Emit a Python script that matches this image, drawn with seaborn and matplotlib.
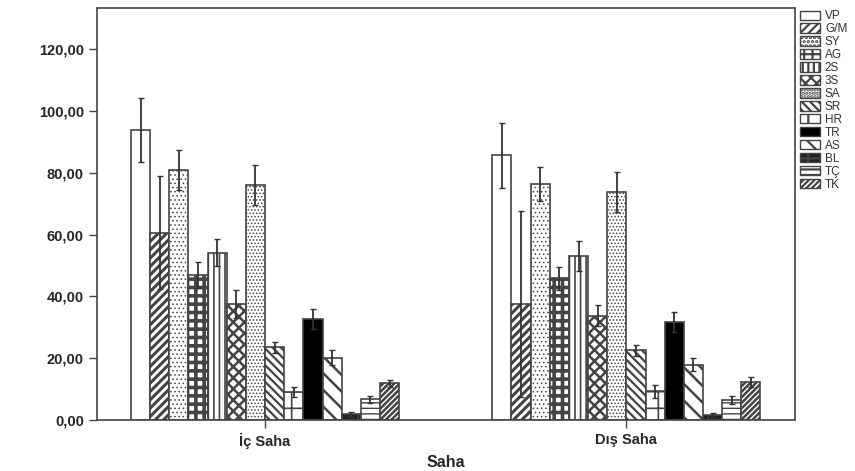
import pandas as pd
import numpy as np
import matplotlib
matplotlib.use('Agg')
import matplotlib.pyplot as plt
import matplotlib.patches as mpatches
from matplotlib.ticker import FuncFormatter
import seaborn as sns

# --- data
saha = ['İç Saha', 'Dış Saha']
kodlar = ['VP', 'G/M', 'SY', 'AG', '2S', '3S', 'SA', 'SR', 'HR', 'TR', 'AS', 'BL', 'TÇ', 'TK']
ic_saha = [93.8, 60.6, 80.8, 46.9, 54.1, 37.5, 75.9, 23.5, 9.1, 32.7, 20.2, 1.8, 6.7, 11.9]
dis_saha = [85.6, 37.5, 76.4, 45.8, 53.1, 33.7, 73.7, 22.5, 9.3, 31.8, 17.9, 1.6, 6.4, 12.3]
ic_hata = [10.4, 18.3, 6.5, 4.1, 4.4, 4.5, 6.5, 1.8, 1.5, 3.1, 2.4, 0.8, 1.2, 1.2]
dis_hata = [10.6, 30.2, 5.4, 3.6, 4.9, 3.4, 6.5, 1.7, 2.1, 3.2, 2.2, 0.7, 1.3, 1.5]

# hatch style per code (facecolor, hatch, hatch linewidth)
desen = {
    'VP': ('white', '', 1.0), 'G/M': ('white', '////', 2.2), 'SY': ('white', '....', 0.6),
    'AG': ('white', '++', 2.6), '2S': ('white', '|||', 1.2), '3S': ('white', 'xxx', 1.8),
    'SA': ('white', '.....', 0.7), 'SR': ('white', '\\\\\\\\', 1.6), 'HR': ('white', '+', 1.2),
    'TR': ('black', '', 1.0), 'AS': ('white', '\\\\', 1.8), 'BL': ('#222222', '+', 1.0),
    'TÇ': ('white', '---', 1.0), 'TK': ('white', '//////', 1.8),
}

rows = []
for k, a, b in zip(kodlar, ic_saha, dis_saha):
    rows.append({'Saha': saha[0], 'Kod': k, 'Deger': a})
    rows.append({'Saha': saha[1], 'Kod': k, 'Deger': b})
df = pd.DataFrame(rows)

sns.set_style('white')
plt.rcParams['font.family'] = ['Liberation Sans', 'DejaVu Sans']
plt.rcParams['hatch.linewidth'] = 1.6
plt.rcParams['hatch.color'] = '#1a1a1a'


def stil(p, k):
    fc, h, lw = desen[k]
    p.set_facecolor(fc)
    p.set_hatch(h)
    p.set_edgecolor('#444444')
    if hasattr(p, 'set_hatch_linewidth'):
        p.set_hatch_linewidth(lw)


fig = plt.figure(figsize=(8.55, 4.71), dpi=100)
ax = fig.add_axes([0.1135, 0.1083, 0.8165, 0.8747])

sns.barplot(data=df, x='Saha', y='Deger', hue='Kod', order=saha, hue_order=kodlar,
            errorbar=None, width=0.742, palette=['white'] * len(kodlar), legend=False, ax=ax,
            edgecolor='#444444', linewidth=1.2)

hatalar = [ic_hata, dis_hata]
bar_conts = list(ax.containers)
for i, cont in enumerate(bar_conts):
    for j, bar in enumerate(cont.patches):
        stil(bar, kodlar[i])
        xc = bar.get_x() + bar.get_width() / 2
        ax.errorbar(xc, bar.get_height(), yerr=hatalar[j][i], color='#333333',
                    capsize=2.5, elinewidth=1.3, capthick=1.0, zorder=5)

ax.set_ylim(0, 133.3)
ax.set_xlim(-0.465, 1.467)
ax.set_yticks(np.arange(0, 121, 20))
ax.yaxis.set_major_formatter(FuncFormatter(lambda v, p: f'{v:.2f}'.replace('.', ',')))
ax.tick_params(axis='both', direction='out', length=6, width=1, color='#444444',
               left=True, bottom=True)
for lbl in ax.get_yticklabels() + ax.get_xticklabels():
    lbl.set_fontweight('bold')
    lbl.set_fontsize(10.5)
ax.set_xlabel('Saha', fontsize=11.5, fontweight='bold', labelpad=4)
ax.set_ylabel('')
for s in ax.spines.values():
    s.set_color('#444444')
    s.set_linewidth(1.2)

handles = []
for k in kodlar:
    hp = mpatches.Patch(label=k)
    stil(hp, k)
    handles.append(hp)
ax.legend(handles=handles, loc='upper left', bbox_to_anchor=(1.002, 1.003), frameon=False,
          fontsize=8.5, handlelength=1.7, handleheight=0.85, labelspacing=0.08,
          handletextpad=0.4, borderaxespad=0.0, borderpad=0.3, labelcolor='#333333')

plt.savefig('out.png', dpi=100)
